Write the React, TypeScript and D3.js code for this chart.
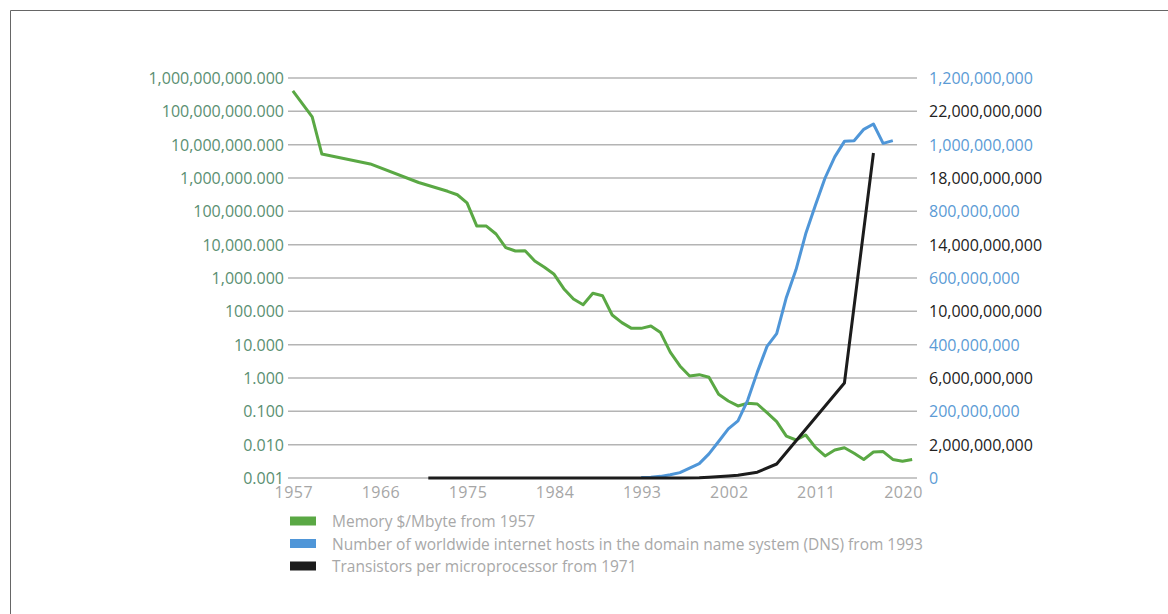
import React from "react";
import * as d3 from "d3";

// Memory price in $ per Mbyte (log scale, left axis)
const memoryYears = [
  1957, 1959, 1960, 1965, 1970, 1973, 1974, 1975, 1976, 1977, 1978, 1979, 1980, 1981, 1982, 1983,
  1984, 1985, 1986, 1987, 1988, 1989, 1990, 1991, 1992, 1993, 1994, 1995, 1996, 1997, 1998, 1999,
  2000, 2001, 2002, 2003, 2004, 2005, 2006, 2007, 2008, 2009, 2010, 2011, 2012, 2013, 2014, 2015,
  2016, 2017, 2018, 2019, 2020, 2021,
];
const memoryValues = [
  411041792, 67947725, 5242880, 2642412, 734003, 399360, 314573, 180224, 36500, 36000, 20900, 8130,
  6460, 6600, 3240, 2090, 1290, 479, 234, 158, 347, 295, 77.6, 45.7, 30.9, 30.9, 36.3, 23, 6,
  2.3, 1.15, 1.26, 1.05, 0.324, 0.204, 0.145, 0.174, 0.166, 0.091, 0.049, 0.018, 0.0138, 0.0195,
  0.0083, 0.0046, 0.0069, 0.0081, 0.0055, 0.0036, 0.006, 0.0062, 0.0036, 0.0032, 0.0036,
];

// Internet hosts in the DNS (right axis, blue)
const hostYears = [
  1993, 1994, 1995, 1996, 1997, 1998, 1999, 2000, 2001, 2002, 2003, 2004, 2005, 2006, 2007, 2008,
  2009, 2010, 2011, 2012, 2013, 2014, 2015, 2016, 2017, 2018, 2019,
];
const hostValues = [
  1.3e6, 2.2e6, 4.9e6, 9.5e6, 16.1e6, 29.7e6, 43.2e6, 72.4e6, 109.6e6, 147.3e6, 171.6e6, 233.1e6,
  317.6e6, 394.9e6, 433.2e6, 541.7e6, 625.2e6, 732.7e6, 818.4e6, 900e6, 963.5e6, 1010e6, 1012e6,
  1046e6, 1062e6, 1004e6, 1012e6,
];

// Transistors per microprocessor (right axis, black)
const transistorYears = [
  1971, 1974, 1978, 1982, 1985, 1989, 1993, 1995, 1997, 1999, 2000, 2002, 2003, 2005, 2007, 2014, 2017,
];
const transistorValues = [
  2300, 5000, 29000, 134000, 275000, 1.2e6, 3.1e6, 5.5e6, 7.5e6, 9.5e6, 42e6, 120e6, 170e6, 350e6,
  840e6, 5.7e9, 19.5e9,
];

const firstYear = 1957;
const lastYear = 2021;
const xTickYears = [1957, 1966, 1975, 1984, 1993, 2002, 2011, 2020];
const memoryTicks = [1e9, 1e8, 1e7, 1e6, 1e5, 1e4, 1e3, 100, 10, 1, 0.1, 0.01, 0.001];
const hostTicks = [0, 2e8, 4e8, 6e8, 8e8, 1e9, 1.2e9];
const transistorTicks = [2e9, 6e9, 10e9, 14e9, 18e9, 22e9];

const legendLabels = [
  "Memory $/Mbyte from 1957",
  "Number of worldwide internet hosts in the domain name system (DNS) from 1993",
  "Transistors per microprocessor from 1971",
];

const GREEN = "#5aa844";
const BLUE = "#4f96d8";
const BLACK = "#1c1c1c";
const legendColors = [GREEN, BLUE, BLACK];

const W = 1168;
const H = 614;
const plot = { left: 288, right: 917, top: 78, bottom: 478 };
const FONT = "'Open Sans', 'Noto Sans', sans-serif";

export default function App() {
  const categories = d3.range(firstYear, lastYear + 1);
  const xBand = d3.scaleBand<number>().domain(categories).range([plot.left, plot.right]);
  const x = (yr: number) => (xBand(yr) as number) + xBand.bandwidth() / 2;

  const yMem = d3.scaleLog().domain([0.001, 1e9]).range([plot.bottom, plot.top]);
  const yHost = d3.scaleLinear().domain([0, 1.2e9]).range([plot.bottom, plot.top]);
  const yTrans = d3.scaleLinear().domain([0, 24e9]).range([plot.bottom, plot.top]);

  const fmtLeft = d3.format(",.3f");
  const fmtRight = d3.format(",");

  const line = d3
    .line<[number, number]>()
    .x((d) => d[0])
    .y((d) => d[1]);

  const memPath = line(memoryYears.map((yr, i) => [x(yr), yMem(memoryValues[i])]));
  const hostPath = line(hostYears.map((yr, i) => [x(yr), yHost(hostValues[i])]));
  const transPath = line(transistorYears.map((yr, i) => [x(yr), yTrans(transistorValues[i])]));

  const legendY = [521, 543.5, 566];

  return (
    <svg
      width={W}
      height={H}
      style={{ position: "absolute", left: 0, top: 0, background: "#fff" }}
      fontFamily={FONT}
    >
      <rect x={0} y={0} width={W} height={H} fill="#fff" />
      {/* frame */}
      <line x1={10.5} y1={10.5} x2={W} y2={10.5} stroke="#666" strokeWidth={1} />
      <line x1={10.5} y1={10.5} x2={10.5} y2={H} stroke="#666" strokeWidth={1} />

      {/* gridlines */}
      {memoryTicks.map((v) => (
        <line
          key={"g" + v}
          x1={plot.left}
          x2={plot.right}
          y1={yMem(v)}
          y2={yMem(v)}
          stroke="#b4b4b4"
          strokeWidth={1.5}
        />
      ))}

      {/* left axis labels */}
      {memoryTicks.map((v) => (
        <text
          key={"l" + v}
          x={plot.left - 4}
          y={yMem(v)}
          textAnchor="end"
          dominantBaseline="central"
          fontSize={16}
          fill="#5a8f72"
        >
          {fmtLeft(v)}
        </text>
      ))}

      {/* right axis labels: hosts (blue) and transistors (black) */}
      {hostTicks.map((v) => (
        <text
          key={"h" + v}
          x={929}
          y={yHost(v)}
          dominantBaseline="central"
          fontSize={16}
          fill="#5b9bd5"
        >
          {fmtRight(v)}
        </text>
      ))}
      {transistorTicks.map((v) => (
        <text
          key={"t" + v}
          x={929}
          y={yTrans(v)}
          dominantBaseline="central"
          fontSize={16}
          fill="#222"
        >
          {fmtRight(v)}
        </text>
      ))}

      {/* x axis labels */}
      {xTickYears.map((yr) => (
        <text
          key={"x" + yr}
          x={x(yr) + 1}
          y={492}
          textAnchor="middle"
          dominantBaseline="central"
          fontSize={16}
          fill="#a6a6a6"
          letterSpacing={0.5}
        >
          {yr}
        </text>
      ))}

      {/* series */}
      <path d={memPath || ""} fill="none" stroke={GREEN} strokeWidth={3} strokeLinejoin="round" />
      <path d={hostPath || ""} fill="none" stroke={BLUE} strokeWidth={3} strokeLinejoin="round" />
      <path d={transPath || ""} fill="none" stroke={BLACK} strokeWidth={3} strokeLinejoin="round" />

      {/* legend */}
      {legendLabels.map((label, i) => (
        <g key={label}>
          <rect x={290} y={legendY[i] - 4.5} width={26} height={9} fill={legendColors[i]} />
          <text
            x={332}
            y={legendY[i]}
            dominantBaseline="central"
            fontSize={15.5}
            fill="#a8a8a8"
          >
            {label}
          </text>
        </g>
      ))}
    </svg>
  );
}
